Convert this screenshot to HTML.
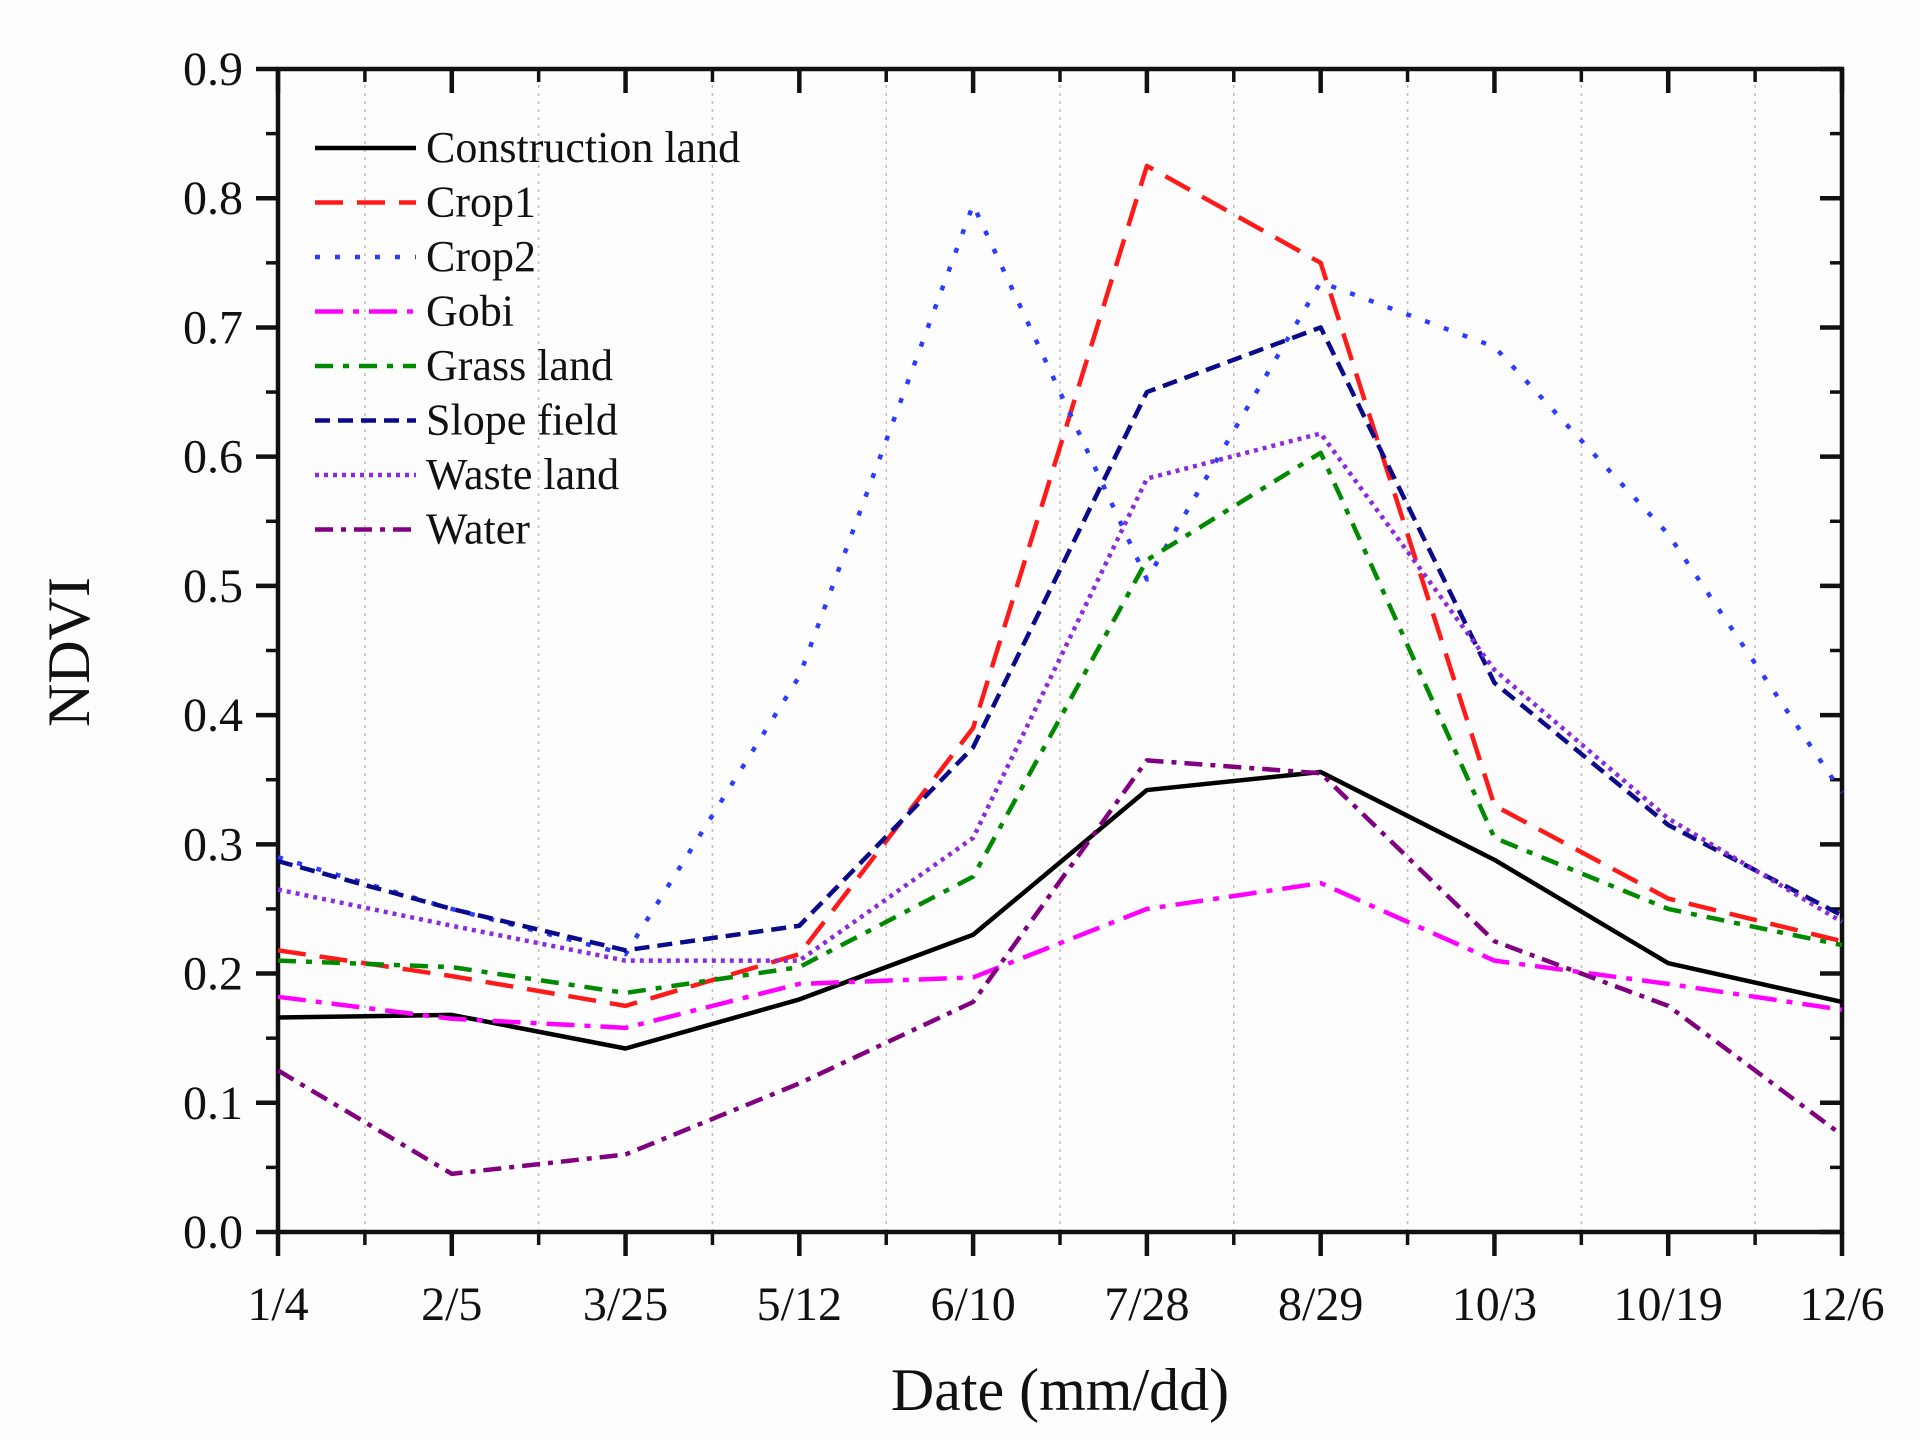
<!DOCTYPE html>
<html><head><meta charset="utf-8"><style>
html,body{margin:0;padding:0;background:#fff;}
svg{display:block;font-family:"Liberation Serif",serif;}
</style></head><body>
<svg id="chart" width="1920" height="1440" viewBox="0 0 1920 1440" xmlns="http://www.w3.org/2000/svg">
<rect width="1920" height="1440" fill="#fdfdfd"/>
<g id="grid"></g>
<g id="axes"></g>
<g id="series"></g>
<g id="legend"></g>
<text x="0" y="0" transform="translate(89,652) rotate(-90)" text-anchor="middle" font-size="60" fill="#111">NDVI</text>
<text x="1060" y="1410" text-anchor="middle" font-size="60" fill="#111">Date (mm/dd)</text>
</svg>
<script>
const categories = ["1/4","2/5","3/25","5/12","6/10","7/28","8/29","10/3","10/19","12/6"];
const yTicks = [0.0,0.1,0.2,0.3,0.4,0.5,0.6,0.7,0.8,0.9];
const seriesNames = ["Construction land","Crop1","Crop2","Gobi","Grass land","Slope field","Waste land","Water"];
const constructionLand = [0.166,0.168,0.142,0.180,0.230,0.342,0.356,0.288,0.208,0.178];
const crop1 = [0.218,0.198,0.175,0.215,0.390,0.825,0.750,0.330,0.258,0.225];
const crop2 = [0.290,0.250,0.215,0.430,0.795,0.505,0.735,0.685,0.540,0.340];
const gobi = [0.182,0.165,0.158,0.192,0.197,0.250,0.270,0.210,0.192,0.172];
const grassLand = [0.210,0.205,0.185,0.205,0.275,0.520,0.603,0.305,0.250,0.222];
const slopeField = [0.287,0.250,0.218,0.237,0.375,0.650,0.700,0.425,0.315,0.245];
const wasteLand = [0.265,0.237,0.210,0.210,0.305,0.583,0.618,0.435,0.320,0.240];
const water = [0.125,0.045,0.060,0.115,0.178,0.365,0.355,0.225,0.175,0.075];

const seriesValues = [constructionLand,crop1,crop2,gobi,grassLand,slopeField,wasteLand,water];
const styles = [
 {c:"#000000",d:""},
 {c:"#ff1a1a",d:"28 14"},
 {c:"#2b3cff",d:"5 15"},
 {c:"#ff00ff",d:"28 10 6 10"},
 {c:"#008a00",d:"18 10 6 10"},
 {c:"#0a0a8a",d:"15 8"},
 {c:"#8a2be2",d:"4 5"},
 {c:"#800080",d:"18 8 5 8"}
];
const L=278,R=1842,T=69,B=1232;
const x = i => L + i*(R-L)/(categories.length-1);
const y = v => B - (v/0.9)*(B-T);
const NS="http://www.w3.org/2000/svg";
function mk(tag,parent,attrs){const e=document.createElementNS(NS,tag);for(const k in attrs)e.setAttribute(k,attrs[k]);parent.appendChild(e);return e;}
const grid=document.getElementById('grid'),axes=document.getElementById('axes'),ser=document.getElementById('series'),leg=document.getElementById('legend');
for(let i=0;i<categories.length-1;i++){
  const xm=(x(i)+x(i+1))/2;
  const g=mk('line',grid,{x1:xm,x2:xm,y1:T,y2:B,stroke:"#c8b8b8","stroke-width":1.5,"stroke-dasharray":"3 5"});
  
  
}
const fr=mk('rect',axes,{x:L,y:T,width:R-L,height:B-T,fill:"none",stroke:"#111","stroke-width":4.5});


categories.forEach((c,i)=>{
  const xi=x(i);
  mk('line',axes,{x1:xi,x2:xi,y1:B,y2:B+24,stroke:"#111","stroke-width":4.5});
  mk('line',axes,{x1:xi,x2:xi,y1:T,y2:T+24,stroke:"#111","stroke-width":4.5});
  if(i<categories.length-1){const xm=(xi+x(i+1))/2;
    mk('line',axes,{x1:xm,x2:xm,y1:B,y2:B+13,stroke:"#111","stroke-width":3.5});
    mk('line',axes,{x1:xm,x2:xm,y1:T,y2:T+13,stroke:"#111","stroke-width":3.5});}
  const t=mk('text',axes,{x:xi,y:1320,"text-anchor":"middle","font-size":48,fill:"#111"});
  t.textContent=c;
  
  
});
yTicks.forEach((v,i)=>{
  const yi=y(v);
  mk('line',axes,{x1:L-22,x2:L,y1:yi,y2:yi,stroke:"#111","stroke-width":4.5});
  mk('line',axes,{x1:R-22,x2:R,y1:yi,y2:yi,stroke:"#111","stroke-width":4.5});
  if(i<yTicks.length-1){const ym=(yi+y(yTicks[i+1]))/2;
    mk('line',axes,{x1:L-12,x2:L,y1:ym,y2:ym,stroke:"#111","stroke-width":3.5});
    mk('line',axes,{x1:R-12,x2:R,y1:ym,y2:ym,stroke:"#111","stroke-width":3.5});}
  const t=mk('text',axes,{x:243,y:yi+16,"text-anchor":"end","font-size":48,fill:"#111"});
  t.textContent=v.toFixed(1);
  
  
});
seriesValues.forEach((vals,s)=>{
  const p=mk('polyline',ser,{points:vals.map((v,i)=>x(i)+","+y(v)).join(" "),fill:"none",stroke:styles[s].c,"stroke-width":4.5,"stroke-dasharray":styles[s].d,"stroke-linejoin":"round"});
  
  
});
seriesNames.forEach((n,s)=>{
  const ly=148+s*54.5;
  const g=mk('g',leg,{});
  
  
  mk('line',g,{x1:315,x2:416,y1:ly,y2:ly,stroke:styles[s].c,"stroke-width":4.5,"stroke-dasharray":styles[s].d});
  const t=mk('text',g,{x:426,y:ly+14,"font-size":44,fill:"#111"});
  t.textContent=n;
});
</script>
</body></html>
